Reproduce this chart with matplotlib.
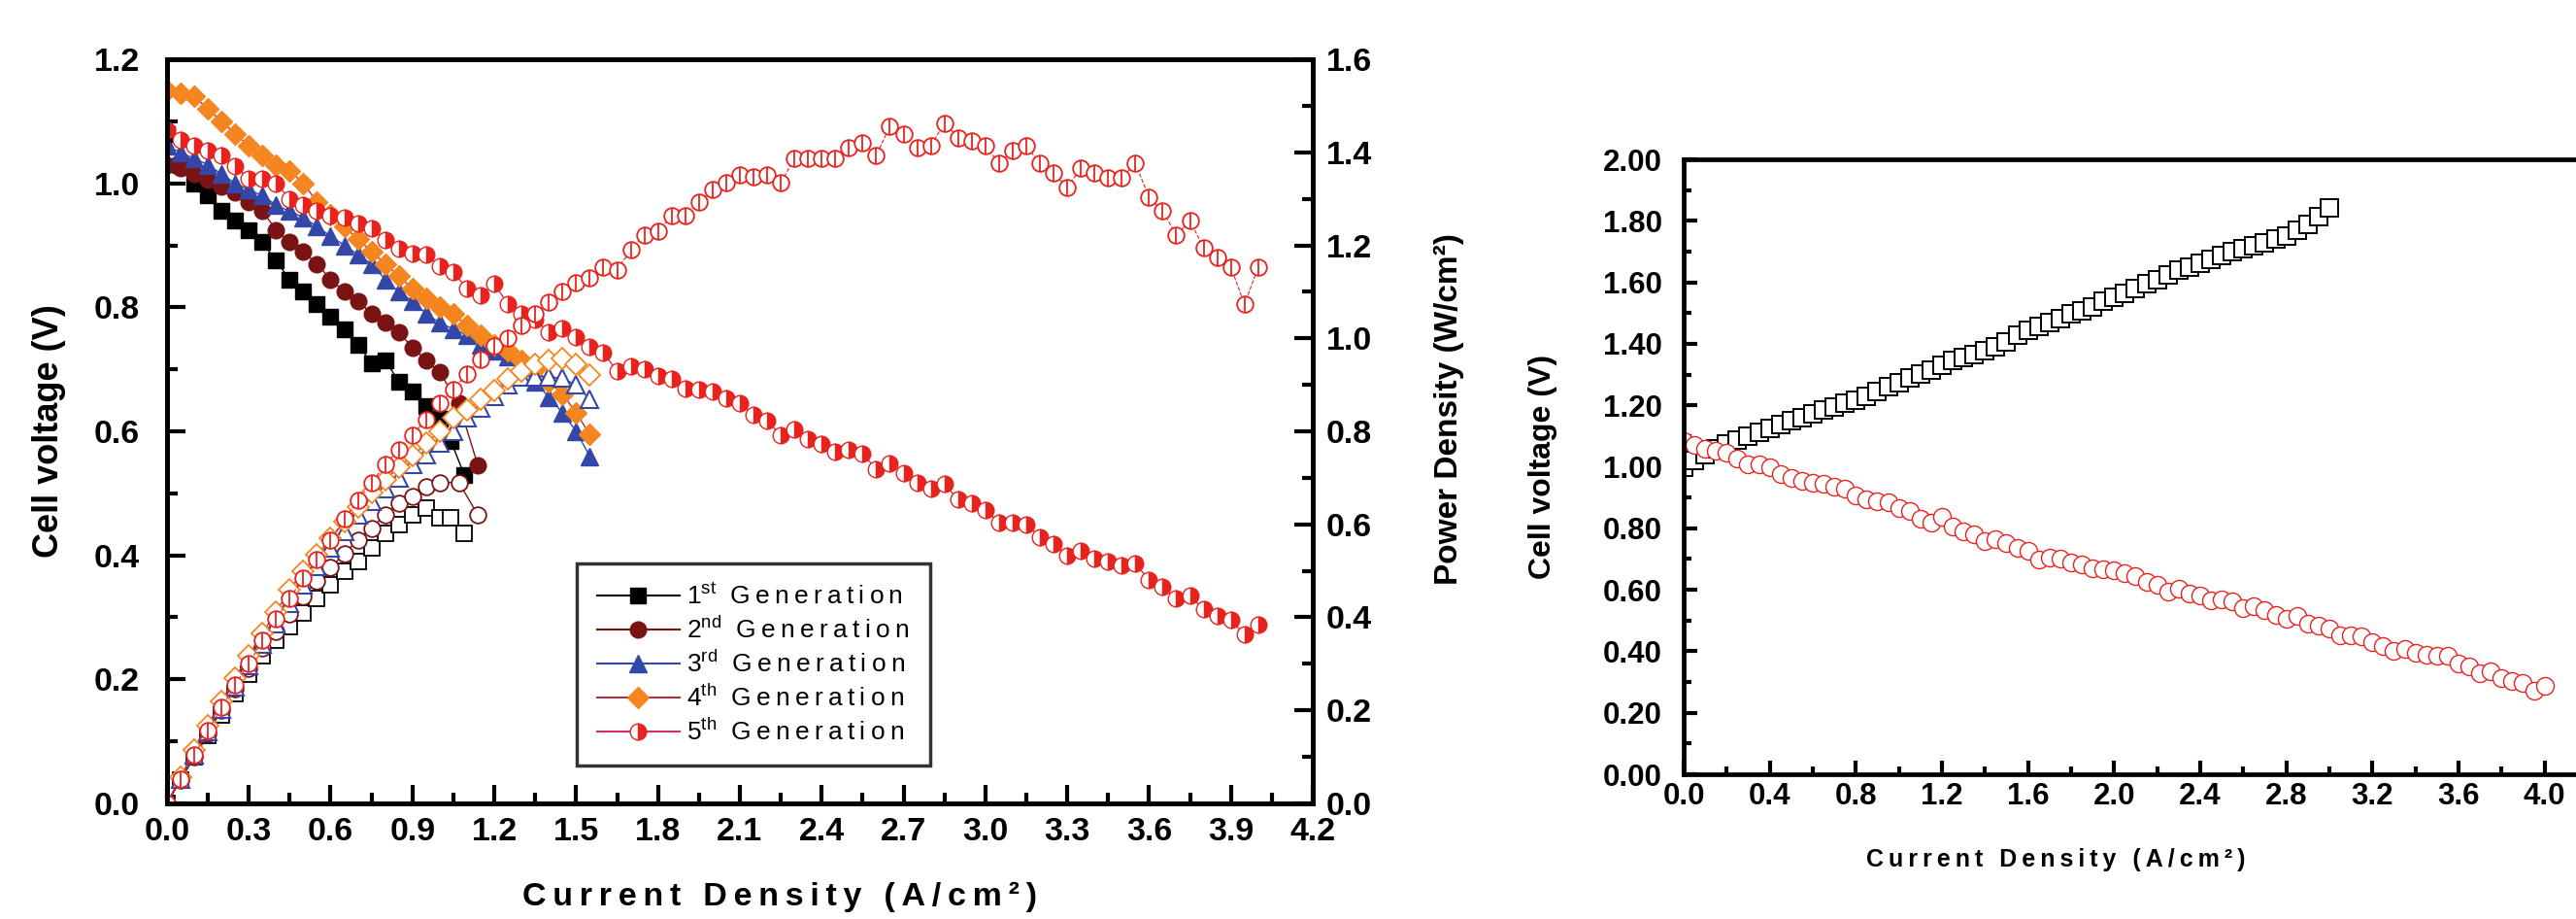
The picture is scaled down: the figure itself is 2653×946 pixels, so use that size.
import numpy as np
import matplotlib.pyplot as plt
from matplotlib.lines import Line2D
from matplotlib.ticker import MultipleLocator, FormatStrFormatter

plt.rcParams['font.family'] = ['Liberation Sans', 'DejaVu Sans']
plt.rcParams['font.weight'] = 'bold'
plt.rcParams['mathtext.default'] = 'regular'

# --- data ---
# 1st generation
i_gen1 = [0.0, 0.05, 0.1, 0.15, 0.2, 0.25, 0.3, 0.35, 0.4, 0.45, 0.5, 0.55, 0.6, 0.65,
          0.7, 0.75, 0.8, 0.85, 0.9, 0.95, 1.0, 1.04, 1.09]
v_gen1 = [1.08, 1.03, 1.0, 0.98, 0.955, 0.94, 0.925, 0.905, 0.875, 0.845, 0.825, 0.805,
          0.785, 0.765, 0.74, 0.71, 0.715, 0.68, 0.665, 0.64, 0.62, 0.585, 0.53]
p_gen1 = [0.0, 0.05, 0.1, 0.147, 0.19, 0.235, 0.278, 0.317, 0.35, 0.38, 0.41, 0.44, 0.47,
          0.5, 0.52, 0.55, 0.58, 0.6, 0.62, 0.635, 0.615, 0.615, 0.58]

# 2nd generation
i_gen2 = [0.0, 0.05, 0.1, 0.15, 0.2, 0.25, 0.3, 0.35, 0.4, 0.45, 0.5, 0.55, 0.6, 0.65,
          0.7, 0.75, 0.8, 0.85, 0.9, 0.95, 1.0, 1.07, 1.14]
v_gen2 = [1.03, 1.025, 1.015, 1.005, 0.995, 0.985, 0.97, 0.955, 0.925, 0.905, 0.89, 0.87,
          0.845, 0.825, 0.81, 0.79, 0.775, 0.76, 0.735, 0.715, 0.695, 0.645, 0.545]
p_gen2 = [0.0, 0.051, 0.1, 0.15, 0.2, 0.246, 0.29, 0.334, 0.37, 0.407, 0.445, 0.478, 0.507,
          0.536, 0.567, 0.592, 0.62, 0.646, 0.66, 0.68, 0.69, 0.69, 0.62]

# 3rd generation
i_gen3 = [0.0, 0.05, 0.1, 0.15, 0.2, 0.25, 0.3, 0.35, 0.4, 0.45, 0.5, 0.55, 0.6, 0.65,
          0.7, 0.75, 0.8, 0.85, 0.9, 0.95, 1.0, 1.05, 1.1, 1.15, 1.2, 1.25, 1.3, 1.35,
          1.4, 1.45, 1.5, 1.55]
v_gen3 = [1.06, 1.05, 1.04, 1.03, 1.015, 1.0, 0.99, 0.98, 0.965, 0.955, 0.945, 0.93, 0.915,
          0.9, 0.885, 0.87, 0.845, 0.825, 0.81, 0.79, 0.775, 0.765, 0.755, 0.74, 0.73,
          0.72, 0.705, 0.68, 0.655, 0.63, 0.6, 0.56]
p_gen3 = [0.0, 0.0525, 0.104, 0.155, 0.203, 0.25, 0.297, 0.343, 0.386, 0.43, 0.47, 0.51,
          0.55, 0.585, 0.62, 0.65, 0.676, 0.7, 0.73, 0.75, 0.775, 0.8, 0.83, 0.85, 0.876,
          0.9, 0.917, 0.918, 0.917, 0.914, 0.9, 0.868]

# 4th generation
i_gen4 = [0.0, 0.05, 0.1, 0.15, 0.2, 0.25, 0.3, 0.35, 0.4, 0.45, 0.5, 0.55, 0.6, 0.65,
          0.7, 0.75, 0.8, 0.85, 0.9, 0.95, 1.0, 1.05, 1.1, 1.15, 1.2, 1.25, 1.3, 1.35,
          1.4, 1.45, 1.5, 1.55]
v_gen4 = [1.15, 1.145, 1.14, 1.12, 1.1, 1.08, 1.06, 1.045, 1.03, 1.02, 1.0, 0.97, 0.95,
          0.93, 0.91, 0.89, 0.87, 0.85, 0.83, 0.815, 0.8, 0.79, 0.77, 0.755, 0.74, 0.73,
          0.715, 0.7, 0.68, 0.66, 0.63, 0.595]
p_gen4 = [0.0, 0.057, 0.114, 0.168, 0.22, 0.27, 0.318, 0.366, 0.412, 0.459, 0.5, 0.534,
          0.57, 0.605, 0.637, 0.668, 0.696, 0.723, 0.747, 0.774, 0.8, 0.83, 0.847, 0.868,
          0.888, 0.913, 0.93, 0.945, 0.952, 0.957, 0.945, 0.922]

# 5th generation (also reused in the right-hand panel)
i_gen5 = [0.0, 0.05, 0.1, 0.15, 0.2, 0.25, 0.3, 0.35, 0.4, 0.45, 0.5, 0.55, 0.6, 0.65,
          0.7, 0.75, 0.8, 0.85, 0.9, 0.95, 1.0, 1.05, 1.1, 1.15, 1.2, 1.25, 1.3, 1.35,
          1.4, 1.45, 1.5, 1.55, 1.6, 1.65, 1.7, 1.75, 1.8, 1.85, 1.9, 1.95, 2.0, 2.05,
          2.1, 2.15, 2.2, 2.25, 2.3, 2.35, 2.4, 2.45, 2.5, 2.55, 2.6, 2.65, 2.7, 2.75,
          2.8, 2.85, 2.9, 2.95, 3.0, 3.05, 3.1, 3.15, 3.2, 3.25, 3.3, 3.35, 3.4, 3.45,
          3.5, 3.55, 3.6, 3.65, 3.7, 3.75, 3.8, 3.85, 3.9, 3.95, 4.0]
v_gen5 = [1.085, 1.07, 1.06, 1.053, 1.045, 1.028, 1.007, 1.007, 1.0, 0.975, 0.965, 0.955,
          0.948, 0.944, 0.936, 0.928, 0.908, 0.895, 0.887, 0.885, 0.866, 0.857, 0.83, 0.82,
          0.838, 0.805, 0.79, 0.78, 0.76, 0.766, 0.752, 0.736, 0.727, 0.697, 0.705, 0.7,
          0.69, 0.684, 0.669, 0.667, 0.664, 0.653, 0.645, 0.627, 0.617, 0.594, 0.603, 0.588,
          0.58, 0.567, 0.57, 0.564, 0.539, 0.548, 0.533, 0.517, 0.507, 0.515, 0.49, 0.484,
          0.473, 0.453, 0.453, 0.45, 0.43, 0.418, 0.4, 0.408, 0.395, 0.39, 0.384, 0.387,
          0.36, 0.35, 0.33, 0.335, 0.313, 0.302, 0.296, 0.272, 0.288]
p_gen5 = [0.0, 0.053, 0.105, 0.156, 0.206, 0.255, 0.3, 0.35, 0.396, 0.441, 0.485, 0.525,
          0.567, 0.611, 0.651, 0.69, 0.728, 0.761, 0.792, 0.826, 0.86, 0.89, 0.924, 0.955,
          0.984, 1.0, 1.027, 1.053, 1.078, 1.1, 1.12, 1.13, 1.153, 1.147, 1.19, 1.223, 1.23,
          1.264, 1.264, 1.293, 1.32, 1.334, 1.351, 1.348, 1.351, 1.334, 1.387, 1.387, 1.387,
          1.387, 1.41, 1.42, 1.393, 1.456, 1.44, 1.41, 1.414, 1.463, 1.431, 1.425, 1.414,
          1.376, 1.404, 1.414, 1.376, 1.356, 1.324, 1.366, 1.356, 1.345, 1.345, 1.376, 1.303,
          1.274, 1.222, 1.253, 1.195, 1.174, 1.153, 1.073, 1.153]

# right panel: open squares
i_sq = [0.0, 0.05, 0.1, 0.15, 0.2, 0.25, 0.3, 0.35, 0.4, 0.45, 0.5, 0.55, 0.6, 0.65, 0.7,
        0.75, 0.8, 0.85, 0.9, 0.95, 1.0, 1.05, 1.1, 1.15, 1.2, 1.25, 1.3, 1.35, 1.4, 1.45,
        1.5, 1.55, 1.6, 1.65, 1.7, 1.75, 1.8, 1.85, 1.9, 1.95, 2.0, 2.05, 2.1, 2.15, 2.2,
        2.25, 2.3, 2.35, 2.4, 2.45, 2.5, 2.55, 2.6, 2.65, 2.7, 2.75, 2.8, 2.85, 2.9, 2.95, 3.0]
v_sq = [1.0, 1.02, 1.04, 1.058, 1.075, 1.088, 1.1, 1.113, 1.125, 1.137, 1.15, 1.161, 1.172,
        1.184, 1.195, 1.206, 1.217, 1.23, 1.245, 1.26, 1.273, 1.288, 1.303, 1.316, 1.33,
        1.345, 1.355, 1.366, 1.378, 1.39, 1.405, 1.43, 1.445, 1.458, 1.47, 1.483, 1.497,
        1.508, 1.52, 1.538, 1.552, 1.565, 1.58, 1.595, 1.61, 1.624, 1.64, 1.65, 1.663, 1.674,
        1.688, 1.7, 1.71, 1.72, 1.73, 1.74, 1.75, 1.77, 1.79, 1.815, 1.842]

legend_labels = ['1$^{st}$', '2$^{nd}$', '3$^{rd}$', '4$^{th}$', '5$^{th}$']

BLUE = '#3347a8'
DRED = '#7a1414'
ORANGE = '#f5861f'
RED = '#e8231e'


def spaced(text, sep='\u2009'):
    """Разрядка между буквами"""
    return sep.join(text)


def style_axis(ax, fs, pad_x, pad_y):
    for sp in ax.spines.values():
        sp.set_linewidth(3.4)
    ax.tick_params(which='major', direction='in', length=14, width=3, labelsize=fs)
    ax.tick_params(which='minor', direction='in', length=8, width=3)
    ax.tick_params(axis='x', pad=pad_x)
    ax.tick_params(axis='y', pad=pad_y)


def draw_left(fig):
    ax = fig.add_axes([0.0648, 0.1258, 0.4448, 0.8097])
    ax2 = ax.twinx()

    ms = 12
    # polarization curves (filled markers)
    ax.plot(i_gen1, v_gen1, '-s', color='black', lw=1, ms=ms, mfc='black', mec='black')
    ax.plot(i_gen2, v_gen2, '-o', color=DRED, lw=1, ms=ms, mfc=DRED, mec=DRED)
    ax.plot(i_gen3, v_gen3, '-^', color=BLUE, lw=1, ms=ms + 1, mfc=BLUE, mec=BLUE)
    ax.plot(i_gen4, v_gen4, '-D', color='#b03040', lw=1, ms=ms - 1, mfc=ORANGE, mec=ORANGE)
    ax.plot(i_gen5, v_gen5, '-o', color='#d03060', lw=1, ms=ms, mfc=RED, mfcalt='white',
            fillstyle='right', mec=RED, mew=1)

    # power density curves (open markers)
    ax2.plot(i_gen1, p_gen1, '-s', color='black', lw=1, ms=ms, mfc='white', mec='black', mew=1.3)
    ax2.plot(i_gen2, p_gen2, '-o', color=DRED, lw=1, ms=ms, mfc='white', mec=DRED, mew=1.3)
    ax2.plot(i_gen3, p_gen3, '-^', color=BLUE, lw=1, ms=ms + 1, mfc='white', mec=BLUE, mew=1.5)
    ax2.plot(i_gen4, p_gen4, '-D', color='#b03040', lw=1, ms=ms - 1, mfc='white', mec=ORANGE, mew=1.3)
    ax2.plot(i_gen5, p_gen5, '--o', color=RED, lw=0.8, ms=ms, mfc='white', mec=RED, mew=1.3)
    ax2.plot(i_gen5, p_gen5, '|', color=RED, ms=ms - 1, mew=1.3)

    ax.set_xlim(0, 4.2)
    ax.set_ylim(0, 1.2)
    ax2.set_ylim(0, 1.6)
    ax.xaxis.set_major_locator(MultipleLocator(0.3))
    ax.xaxis.set_minor_locator(MultipleLocator(0.15))
    ax.yaxis.set_major_locator(MultipleLocator(0.2))
    ax.yaxis.set_minor_locator(MultipleLocator(0.1))
    ax2.yaxis.set_major_locator(MultipleLocator(0.2))
    ax2.yaxis.set_minor_locator(MultipleLocator(0.1))
    ax.xaxis.set_major_formatter(FormatStrFormatter('%.1f'))
    ax.yaxis.set_major_formatter(FormatStrFormatter('%.1f'))
    ax2.yaxis.set_major_formatter(FormatStrFormatter('%.1f'))

    style_axis(ax, 24.5, 10, 20)
    style_axis(ax2, 24.5, 10, 10)
    ax.tick_params(top=False)

    ax.set_xlabel(spaced('Current Density (A/cm²)'), fontsize=24.5, fontweight='bold')
    ax.xaxis.set_label_coords(0.535, -0.105)
    ax.set_ylabel('Cell voltage (V)', fontsize=26, fontweight='bold')
    ax.yaxis.set_label_coords(-0.088, 0.5)
    ax2.set_ylabel('Power Density (W/cm²)', fontsize=24, fontweight='bold')
    ax2.yaxis.set_label_coords(1.106, 0.53)

    # legend
    handles = [
        Line2D([], [], color='black', lw=1.5, marker='s', ms=ms, mfc='black', mec='black'),
        Line2D([], [], color=DRED, lw=1.5, marker='o', ms=ms, mfc=DRED, mec=DRED),
        Line2D([], [], color=BLUE, lw=1.5, marker='^', ms=ms + 1, mfc=BLUE, mec=BLUE),
        Line2D([], [], color='#b03040', lw=1.5, marker='D', ms=ms - 1, mfc=ORANGE, mec=ORANGE),
        Line2D([], [], color='#d03060', lw=1.5, marker='o', ms=ms, mfc=RED, mfcalt='white',
               fillstyle='right', mec=RED),
    ]
    labels = [f'{n}  ' + spaced('Generation') for n in legend_labels]
    leg = ax.legend(handles, labels, loc='upper left',
                    bbox_to_anchor=(0.2239, 0.3869), bbox_transform=fig.transFigure,
                    fontsize=19, frameon=True, fancybox=False, edgecolor='black',
                    handlelength=3.2, handletextpad=0.3, labelspacing=0.3,
                    borderpad=0.8, borderaxespad=0)
    leg.get_frame().set_linewidth(2.5)
    for t in leg.get_texts():
        t.set_fontweight('normal')
    return ax


def draw_right(fig):
    ax = fig.add_axes([0.6536, 0.1575, 0.3509, 0.669])
    ax.plot(i_sq, v_sq, 's', ms=13, mfc='white', mec='black', mew=1.4)
    ax.plot(i_gen5, v_gen5, 'o', ms=13, mfc='white', mec=RED, mew=1.0)

    ax.set_xlim(0, 4.2)
    ax.set_ylim(0, 2.0)
    ax.xaxis.set_major_locator(MultipleLocator(0.4))
    ax.xaxis.set_minor_locator(MultipleLocator(0.2))
    ax.yaxis.set_major_locator(MultipleLocator(0.2))
    ax.yaxis.set_minor_locator(MultipleLocator(0.1))
    ax.xaxis.set_major_formatter(FormatStrFormatter('%.1f'))
    ax.yaxis.set_major_formatter(FormatStrFormatter('%.2f'))
    style_axis(ax, 22.5, 6, 16)
    ax.tick_params(which='both', length=10)
    ax.tick_params(which='minor', length=6)

    ax.set_xlabel(spaced('Current Density (A/cm²)'), fontsize=18, fontweight='bold')
    ax.xaxis.set_label_coords(0.412, -0.12)
    ax.set_ylabel('Cell voltage (V)', fontsize=23, fontweight='bold')
    ax.yaxis.set_label_coords(-0.14, 0.5)
    return ax


def main():
    fig = plt.figure(figsize=(26.53, 9.46), dpi=100)
    draw_left(fig)
    draw_right(fig)
    fig.savefig('out.png', dpi=100, facecolor='white')


if __name__ == "__main__":
    main()
